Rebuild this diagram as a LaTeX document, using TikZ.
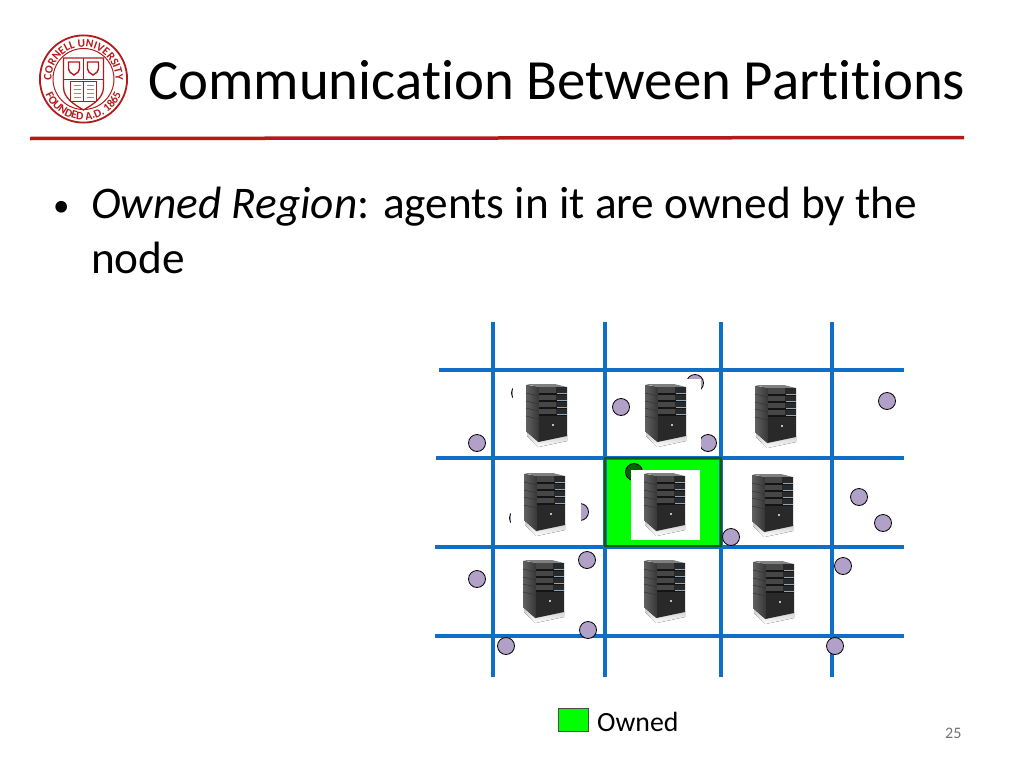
\documentclass[tikz,border=0pt]{standalone}
\usepackage{fontspec}
\setmainfont[Ligatures=NoCommon]{Carlito}
\usetikzlibrary{decorations.text}
\definecolor{cornell}{HTML}{B31B1B}
\definecolor{gridblue}{HTML}{0F6FC6}
\definecolor{agentfill}{HTML}{B1A0C7}
\definecolor{ownedgreen}{HTML}{00FF00}
\definecolor{steelstripe}{HTML}{8CA5BA}
\definecolor{ownededge}{HTML}{145A14}
\tikzset{
  gridline/.style={draw=gridblue,line width=3.5pt},
  agent/.style={circle,draw=black,fill=agentfill,line width=0.8pt,minimum size=17pt,inner sep=0pt},
  titletext/.style={anchor=base west,inner sep=0pt,font=\fontsize{56.8}{57}\selectfont,text=black},
  bodytext/.style={anchor=base west,inner sep=0pt,font=\fontsize{45.3}{48}\selectfont,text=black},
  pics/serverbox/.style={code={
    \fill[top color=black!25,bottom color=white] (1,46) -- (12.5,57) -- (41,51) -- (41,57) -- (12.5,63) -- (1,52) -- cycle;
    \fill[left color=black!62,right color=black!78] (0,1) -- (12.5,3) -- (12.5,58) -- (0,47) -- cycle;
    \foreach \yy in {12,20,27,35}
      \draw[black!80,line width=0.5pt] (0,\yy-3) -- (12.5,\yy);
    \fill[black!50] (0,0) -- (29,0) -- (41,3) -- (12.5,3) -- cycle;
    \fill[black!84] (12.5,3) -- (41,3) -- (41,52) -- (12.5,58) -- cycle;
    \fill[black!72] (12.5,3) rectangle (30,32);
    \foreach \yy in {9.5,16.5,23.5,30.5}{
      \fill[black!92] (12.5,\yy-0.8) rectangle (41,\yy+1);
      \fill[steelstripe] (30.5,\yy-1) rectangle (41,\yy+0.4);
    }
    \fill[black!25] (25.8,40) rectangle (28.4,42.2);
  }},
}
\begin{document}
\begin{tikzpicture}[x=1pt,y=-1pt]
\useasboundingbox (0,0) rectangle (1024,768);
\fill[white] (0,0) rectangle (1024,768);
% seal
\begin{scope}[shift={(83.5,79)},y=1pt]
  \draw[cornell,line width=1.8pt] (0,0) circle (43.6);
  \draw[cornell,line width=1pt] (0,0) circle (30.5);
  \path[decorate,decoration={text along path,text align=center,
    text={|\fontsize{11.5}{11.5}\selectfont\bfseries\color{cornell}|CORNELL UNIVERSITY}}]
    (195:32) arc (195:-15:32);
  \path[decorate,decoration={text along path,text align=center,
    text={|\fontsize{11.5}{11.5}\selectfont\bfseries\color{cornell}|FOUNDED A.D. 1865}}]
    (-158:41) arc (-158:-22:41);
  \draw[cornell,line width=1.3pt,fill=white] (-20,21) -- (20,21) -- (20,-8) .. controls (20,-20) and (8,-26) .. (0,-31) .. controls (-8,-26) and (-20,-20) .. (-20,-8) -- cycle;
  \draw[cornell,line width=1pt] (-20,0) -- (20,0);
  \draw[cornell,line width=1pt] (0,21) -- (0,0);
  \draw[cornell,line width=1.4pt] (-15,17) -- (-4,17) -- (-4,10) .. controls (-5,7) .. (-9.5,4) .. controls (-14,7) .. (-15,10) -- cycle;
  \draw[cornell,line width=1.4pt] (4,17) -- (15,17) -- (15,10) .. controls (14,7) .. (9.5,4) .. controls (5,7) .. (4,10) -- cycle;
  \draw[cornell,line width=0.9pt] (-13,-2) rectangle (0,-22);
  \draw[cornell,line width=0.9pt] (0,-2) rectangle (13,-22);
  \foreach \yy in {-6,-10,-14,-18}{
    \draw[cornell!60,line width=0.7pt] (-10,\yy) -- (-3,\yy);
    \draw[cornell!60,line width=0.7pt] (3,\yy) -- (10,\yy);
  }
\end{scope}
\node[titletext] (title) at (148,99) {Communication Between Partitions};
\draw[cornell,line width=3.5pt] (30,138.5) -- (964,137.5);
\node[anchor=base west,inner sep=0pt,font=\fontsize{33}{33}\selectfont] (bullet) at (53,216) {•};
\node[bodytext] (line1) at (91,218) {\textit{Owned Region}: agents in it are owned by the};
\node[bodytext] (line2) at (91,273) {node};
% owned cell
\fill[ownedgreen] (605,458) rectangle (721,546);
% grid
\foreach \xx in {493,605,721,832}
  \draw[gridline] (\xx,322) -- (\xx,677);
\draw[gridline] (439,370) -- (904,370);
\draw[gridline] (436,458) -- (904,458);
\draw[gridline] (435,547) -- (904,547);
\draw[gridline] (435,636) -- (904,636);
\draw[draw=ownededge,line width=1.2pt] (605,458) rectangle (721,546);
% agents
\foreach \px/\py/\nm in {477/443/a1,621/407/a2,708/443/a3,695/383/a4,887/401/a5,
   520/393/a6,518/518/a7,580/512/a8,859/497/a9,883/523/a10,731/537/a11,587/560/a12,
   843/566/a13,477/579/a14,588/630/a15,506/646/a16,835/646/a17}
  \node[agent] (\nm) at (\px,\py) {};
\node[agent,fill=green!40!black] (a18) at (634,472) {};
% image backgrounds
\fill[white] (513,376) rectangle (575,452);
\fill[white] (632,379) rectangle (701,452);
\fill[white] (511,465) rectangle (581,540);
\fill[white] (631,470) rectangle (700,540);
% servers
\foreach \sx/\sy in {526/384,645/384,755/385,524/473,644/473,752/474,523/560,644/560,753/561}
  \pic at (\sx,\sy) {serverbox};
% legend
\node[draw=black!70,fill=ownedgreen,line width=1pt,minimum width=30pt,minimum height=23pt,inner sep=0pt] (legendbox) at (573,720) {};
\node[anchor=base west,inner sep=0pt,font=\fontsize{27.8}{28}\selectfont] (legendtext) at (597,731) {Owned};
\node[anchor=base west,inner sep=0pt,font=\fontsize{16}{16}\selectfont,text=black!55] (pagenum) at (945,738) {25};
\end{tikzpicture}
\end{document}
